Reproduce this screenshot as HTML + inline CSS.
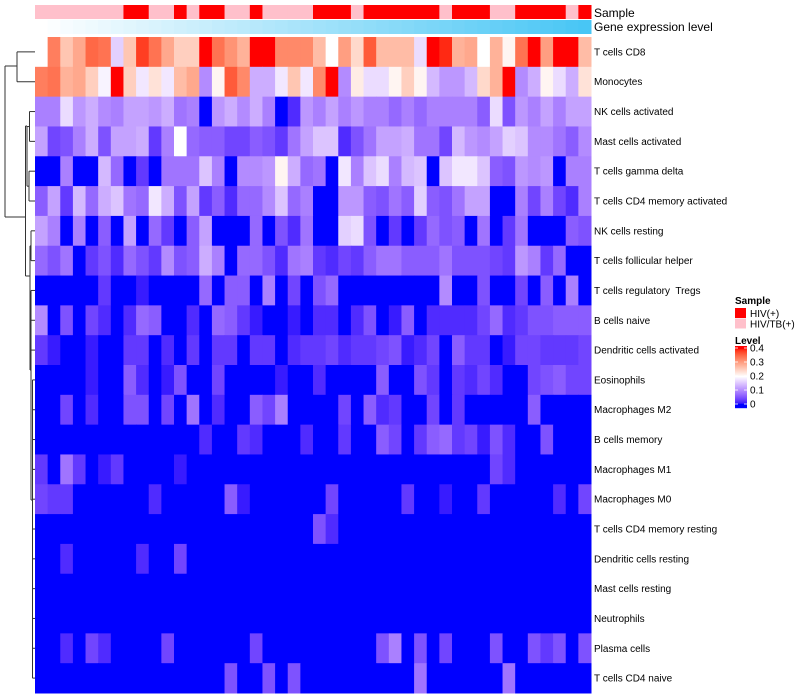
<!DOCTYPE html>
<html><head><meta charset="utf-8"><style>
body{margin:0;background:#fff;}
svg{display:block;font-family:"Liberation Sans",Arial,sans-serif;}
text{white-space:pre;}
</style></head><body>
<svg id="chart" width="800" height="700"></svg>
<script>
const cellTypes=["T cells CD8","Monocytes","NK cells activated","Mast cells activated","T cells gamma delta","T cells CD4 memory activated","NK cells resting","T cells follicular helper","T cells regulatory  Tregs","B cells naive","Dendritic cells activated","Eosinophils","Macrophages M2","B cells memory","Macrophages M1","Macrophages M0","T cells CD4 memory resting","Dendritic cells resting","Mast cells resting","Neutrophils","Plasma cells","T cells CD4 naive"];
const sampleGroups="PPPPPPPRRPPRPRRPPRPPPPRRRPRRRRRRPRRRPPRRRRPR".split("");
const levelTicks=[0.4,0.3,0.2,0.1,0];
// values in hundredths
const rowCD8=[20,33,26,29,35,34,16,26,38,34,29,25,25,40,34,31,28,40,40,32,32,32,27,20,30,24,36,27,27,27,17,40,39,28,29,20,28,21,34,40,30,40,40,27];
const rowMono=[33,34,28,29,25,19,40,25,18,23,18,27,29,10,21,36,32,13,13,18,26,18,32,40,10,22,17,17,21,25,21,14,11,11,14,24,28,40,10,13,21,17,13,23];
const rowNKact=[9,9,17,11,13,10,9,12,12,11,13,8,9,0,11,13,10,13,9,0,2,11,9,12,9,11,9,9,7,9,7,9,9,9,9,6,17,5,11,9,12,9,12,12];
const rowMastAct=[12,4,5,9,13,5,12,12,13,3,9,20,7,6,6,4,4,6,5,3,8,12,15,15,2,5,8,12,12,13,8,8,4,14,11,10,12,16,15,10,10,8,6,10];
const rowGD=[0,0,9,0,0,14,7,0,3,0,8,8,8,15,9,0,10,10,11,21,13,7,8,0,18,9,15,17,9,14,15,0,15,18,18,15,6,5,11,10,11,0,9,9];
const rowCD4MA=[6,12,3,14,7,13,15,8,7,18,13,5,12,3,6,2,7,7,10,15,7,9,0,0,11,11,6,5,8,6,16,6,5,8,12,12,0,0,9,4,9,4,2,9];
const rowNKrest=[12,9,0,9,0,6,0,12,0,7,3,0,6,12,0,0,0,7,0,5,2,8,0,0,16,17,5,0,3,0,3,7,5,6,0,8,0,3,8,0,0,0,6,5];
const rowTfh=[7,5,8,0,3,5,2,7,5,3,10,5,6,13,9,0,7,7,5,2,8,9,3,2,4,3,6,8,8,6,6,6,8,5,5,5,4,3,11,9,3,7,0,0];
const rowTreg=[0,0,0,0,0,3,0,0,1,0,0,0,0,7,0,6,6,0,9,0,4,0,5,7,0,0,0,0,0,0,0,0,10,0,0,5,0,0,4,0,6,0,9,0];
const rowBnaive=[10,0,5,0,4,2,0,2,7,6,0,0,2,0,7,6,3,1,0,0,1,0,2,2,0,2,5,0,1,6,0,2,2,2,2,4,7,2,3,5,5,6,6,6];
const rowDCact=[3,1,0,0,1,0,0,3,3,0,2,0,3,0,3,3,0,3,3,0,2,3,3,4,2,3,3,4,5,1,2,4,0,6,3,3,0,1,4,4,3,3,3,4];
const rowEos=[0,0,0,0,1,0,0,6,2,0,1,5,0,0,4,0,0,0,0,1,0,0,2,0,0,0,0,6,0,0,5,3,0,3,2,4,2,0,0,4,5,6,4,4];
const rowM2=[0,0,4,0,2,0,0,5,5,0,4,0,8,0,2,0,0,6,4,9,0,0,0,0,4,0,6,2,3,0,0,4,0,3,0,0,0,0,0,6,0,0,0,0];
const rowBmem=[0,0,0,0,0,0,0,0,0,0,0,0,0,2,0,0,3,2,0,0,0,2,0,0,3,0,0,6,4,0,3,6,7,3,4,1,5,2,0,0,5,0,0,0];
const rowM1=[3,0,8,3,0,1,3,0,0,0,0,1,0,0,0,0,0,0,0,0,0,0,0,0,0,0,0,0,0,0,0,0,0,0,0,0,4,2,0,0,0,0,0,0];
const rowM0=[4,3,3,0,0,0,0,0,0,2,0,0,0,0,0,6,1,0,0,0,0,0,0,4,0,0,0,0,0,3,0,0,1,0,0,3,0,0,0,0,0,2,0,4];
const rowCD4MR=[0,0,0,0,0,0,0,0,0,0,0,0,0,0,0,0,0,0,0,0,0,0,5,2,0,0,0,0,0,0,0,0,0,0,0,0,0,0,0,0,0,0,0,0];
const rowDCrest=[0,0,2,0,0,0,0,0,2,0,0,4,0,0,0,0,0,0,0,0,0,0,0,0,0,0,0,0,0,0,0,0,0,0,0,0,0,0,0,0,0,0,0,0];
const rowMastRest=[0,0,0,0,0,0,0,0,0,0,0,0,0,0,0,0,0,0,0,0,0,0,0,0,0,0,0,0,0,0,0,0,0,0,0,0,0,0,0,0,0,0,0,0];
const rowNeut=[0,0,0,0,0,0,0,0,0,0,0,0,0,0,0,0,0,0,0,0,0,0,0,0,0,0,0,0,0,0,0,0,0,0,0,0,0,0,0,0,0,0,0,0];
const rowPlasma=[0,0,2,0,4,2,0,0,0,0,4,0,0,0,0,0,0,4,0,0,0,0,0,0,0,0,0,5,9,0,5,0,4,0,0,0,5,0,0,5,3,5,0,5];
const rowCD4naive=[0,0,0,0,0,0,0,0,0,0,0,0,0,0,0,5,0,0,5,0,5,0,0,0,0,0,0,0,0,0,8,0,0,0,0,0,0,8,0,0,0,0,0,0];
const values=[rowCD8,rowMono,rowNKact,rowMastAct,rowGD,rowCD4MA,rowNKrest,rowTfh,rowTreg,rowBnaive,rowDCact,rowEos,rowM2,rowBmem,rowM1,rowM0,rowCD4MR,rowDCrest,rowMastRest,rowNeut,rowPlasma,rowCD4naive];

const NS="http://www.w3.org/2000/svg";
const svg=document.getElementById('chart');
function mk(tag,attrs,parent){const e=document.createElementNS(NS,tag);for(const k in attrs)e.setAttribute(k,attrs[k]);(parent||svg).appendChild(e);return e;}

function s2l(c){c/=255;return c<=0.04045?c/12.92:Math.pow((c+0.055)/1.055,2.4);}
function l2s(c){c=c<=0.0031308?12.92*c:1.055*Math.pow(c,1/2.4)-0.055;return Math.max(0,Math.min(255,Math.round(c*255)));}
function toLab(rgb){const r=s2l(rgb[0]),g=s2l(rgb[1]),b=s2l(rgb[2]);
 let x=(0.4124*r+0.3576*g+0.1805*b)/0.95047,y=(0.2126*r+0.7152*g+0.0722*b),z=(0.0193*r+0.1192*g+0.9505*b)/1.08883;
 const f=t=>t>0.008856?Math.cbrt(t):7.787*t+16/116;x=f(x);y=f(y);z=f(z);return [116*y-16,500*(x-y),200*(y-z)];}
function fromLab(l){let y=(l[0]+16)/116,x=l[1]/500+y,z=y-l[2]/200;const fi=t=>t*t*t>0.008856?t*t*t:(t-16/116)/7.787;
 x=fi(x)*0.95047;y=fi(y);z=fi(z)*1.08883;
 const r=3.2406*x-1.5372*y-0.4986*z,g=-0.9689*x+1.8758*y+0.0415*z,b=0.0557*x-0.2040*y+1.0570*z;return `rgb(${l2s(r)},${l2s(g)},${l2s(b)})`;}
const LB=toLab([0,0,255]),LW=toLab([255,255,255]),LR=toLab([255,0,0]);
function col(v){v=Math.max(0,Math.min(0.4,v));let a,b,t;if(v<=0.2){a=LB;b=LW;t=v/0.2;}else{a=LW;b=LR;t=(v-0.2)/0.2;}
 return fromLab([a[0]+(b[0]-a[0])*t,a[1]+(b[1]-a[1])*t,a[2]+(b[2]-a[2])*t]);}

const X0=35,X1=591,Y0=37,Y1=693,nC=44,nR=cellTypes.length;
const cw=(X1-X0)/nC,rh=(Y1-Y0)/nR;
const xS=i=>X0+i*cw, yS=r=>Y0+r*rh;

const gAnn=mk('g',{});


sampleGroups.forEach((s,i)=>{
 const r=mk('rect',{x:xS(i),y:5,width:cw+0.5,height:14,fill:s==='R'?'#FF0000':'#FFC0CB'},gAnn);
 
 
 const t=i/(nC-1);
 const g=mk('rect',{x:xS(i),y:20,width:cw+0.5,height:14,fill:`rgb(${Math.round(255-(255-72)*t)},${Math.round(255-(255-198)*t)},${Math.round(255-(255-245)*t)})`},gAnn);
 
 
});
const a1=mk('text',{x:594,y:17,'font-size':12,fill:'#000'});a1.textContent='Sample';


const a2=mk('text',{x:594,y:31,'font-size':12,fill:'#000'});a2.textContent='Gene expression level';



const gH=mk('g',{});


values.forEach((row,r)=>{
 row.forEach((v,i)=>{
  const c=mk('rect',{x:xS(i),y:yS(r),width:cw+0.5,height:rh+0.5,fill:col(v/100)},gH);
  
  
 });
 const t=mk('text',{x:594,y:yS(r)+rh/2+3.5,'font-size':10,fill:'#000'});
 t.textContent=cellTypes[r];
 
 
});

const gD=mk('g',{stroke:'#333','stroke-width':1,fill:'none'});


const cy=r=>yS(r)+rh/2;
const segs=[
 [5,66,5,217],[5,66,17,66],[17,cy(0),17,cy(1)],[17,cy(0),35,cy(0)],[17,cy(1),35,cy(1)],
 [5,217,25.5,217],[25.5,126,25.5,276],[25.5,126,27,126],[27,cy(2)+15,27,cy(4)+15],
 [27,cy(2)+15,29.5,cy(2)+15],[29.5,cy(2),29.5,cy(3)],[29.5,cy(2),35,cy(2)],[29.5,cy(3),35,cy(3)],
 [27,cy(4)+15,29,cy(4)+15],[29,cy(4),29,cy(5)],[29,cy(4),35,cy(4)],[29,cy(5),35,cy(5)],
 [25.5,276,30,276],[30,cy(6)+15,30,370],[30,cy(6)+15,31,cy(6)+15],[31,cy(6),31,cy(7)],[31,cy(6),35,cy(6)],[31,cy(7),35,cy(7)],
 [30,370,31,370],[31,cy(8),31,500],[31,cy(8),35,cy(8)],[31,cy(9),35,cy(9)],[31,cy(10),35,cy(10)],
 [31,500,32.5,500],[32.5,cy(11),32.5,cy(21)],
 [32.5,cy(11),35,cy(11)],[32.5,cy(12),35,cy(12)],[32.5,cy(13),35,cy(13)],[32.5,cy(14),35,cy(14)],[32.5,cy(15),35,cy(15)],
 [32.5,cy(16),35,cy(16)],[32.5,cy(17),35,cy(17)],[32.5,cy(18),35,cy(18)],[32.5,cy(19),35,cy(19)],[32.5,cy(20),35,cy(20)],[32.5,cy(21),35,cy(21)]
];
segs.forEach(s=>{const l=mk('line',{x1:s[0],y1:s[1],x2:s[2],y2:s[3]},gD);
 
 });

const gL=mk('g',{});


const lt=mk('text',{x:735,y:304,'font-size':10,'font-weight':'bold'},gL);lt.textContent='Sample';


[['#FF0000','HIV(+)'],['#FFC0CB','HIV/TB(+)']].forEach((d,k)=>{
 const r=mk('rect',{x:735,y:308+k*10.5,width:11,height:10,fill:d[0]},gL);
 
 
 const t=mk('text',{x:750,y:317+k*10.5,'font-size':10},gL);t.textContent=d[1];
 
 
});
const lt2=mk('text',{x:735,y:344,'font-size':10,'font-weight':'bold'},gL);lt2.textContent='Level';


const bTop=346,bBot=408,vY=v=>404-(v/0.4)*56;
for(let y=bTop;y<bBot;y++){
 const v=Math.max(0,Math.min(0.4,(404-y)/56*0.4));
 mk('rect',{x:735,y:y,width:12,height:1.2,fill:col(v)},gL);
}
levelTicks.forEach(v=>{
 mk('line',{x1:735,x2:738,y1:vY(v),y2:vY(v),stroke:'#fff','stroke-width':0.8},gL);
 mk('line',{x1:744,x2:747,y1:vY(v),y2:vY(v),stroke:'#fff','stroke-width':0.8},gL);
 const t=mk('text',{x:750,y:vY(v)+3.5,'font-size':10},gL);t.textContent=String(v);
 
 
});
</script>
</body></html>
